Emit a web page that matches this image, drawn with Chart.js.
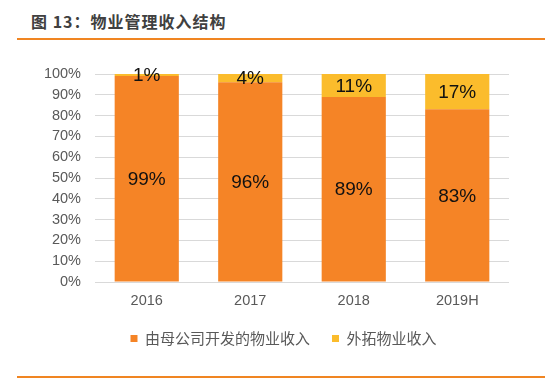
<!DOCTYPE html>
<html>
<head>
<meta charset="utf-8">
<script src="https://cdn.jsdelivr.net/npm/chart.js@4/dist/chart.umd.min.js"></script>
<style>
  html, body { margin: 0; padding: 0; background: #fff; }
  body { width: 558px; height: 384px; position: relative; overflow: hidden; }
  #title { position: absolute; left: 31px; top: 9px; font: bold 16px "Noto Sans CJK SC", "Liberation Sans", sans-serif; color: #404040; letter-spacing: 1px; white-space: nowrap; }
  .rule { position: absolute; left: 17px; width: 528px; height: 2px; background: #F08522; }
  #wrap { position: absolute; left: 0; top: 0; width: 558px; height: 384px; }
</style>
</head>
<body>
<div id="title">图 13：物业管理收入结构</div>
<div class="rule" style="top:38px"></div>
<div class="rule" style="top:376px"></div>
<div id="wrap"><canvas id="c" width="558" height="384"></canvas></div>
<script>
const categories = ["2016", "2017", "2018", "2019H"];
const seriesNames = ["由母公司开发的物业收入", "外拓物业收入"];
const parentDeveloped = [99, 96, 89, 83];
const externalExpansion = [1, 4, 11, 17];
const yTicks = [0, 10, 20, 30, 40, 50, 60, 70, 80, 90, 100];

const labelPlugin = {
  id: 'segLabels',
  afterLayout(chart) {
    const lg = chart.legend;
    if (lg) { lg.left += 29; lg.right += 29; }
  },
  afterDatasetsDraw(chart) {
    const ctx = chart.ctx;
    ctx.save();
    ctx.font = '19px "Liberation Sans", Arial, sans-serif';
    ctx.fillStyle = '#111';
    ctx.textAlign = 'center';
    ctx.textBaseline = 'middle';
    chart.data.datasets.forEach((ds, di) => {
      const meta = chart.getDatasetMeta(di);
      meta.data.forEach((el, i) => {
        const p = el.getProps(['x', 'y', 'base'], true);
        ctx.fillText(ds.data[i] + '%', p.x, (p.y + p.base) / 2 + 1);
      });
    });
    ctx.restore();
  }
};

new Chart(document.getElementById('c'), {
  type: 'bar',
  data: {
    labels: categories,
    datasets: [
      { label: seriesNames[0], data: parentDeveloped, backgroundColor: '#F58426', borderWidth: 0 },
      { label: seriesNames[1], data: externalExpansion, backgroundColor: '#FBBC2C', borderWidth: 0 }
    ]
  },
  options: {
    responsive: false,
    animation: false,
    devicePixelRatio: 1,
    layout: { padding: { left: 0, right: 49, top: 74, bottom: 28 } },
    datasets: { bar: { barPercentage: 0.62, categoryPercentage: 1 } },
    plugins: {
      tooltip: { enabled: false },
      legend: {
        position: 'bottom',
        labels: {
          boxWidth: 7, boxHeight: 7, padding: 22,
          color: '#595959',
          font: { size: 15, family: '"Noto Sans CJK SC", "Liberation Sans", sans-serif' }
        }
      }
    },
    scales: {
      x: {
        stacked: true,
        clip: false,
        grid: { display: false, drawTicks: false },
        border: { display: false },
        ticks: { color: '#595959', padding: 10, font: { size: 14.5, family: '"Liberation Sans", Arial, sans-serif' } },
        afterFit(s) { s.height = 27; }
      },
      y: {
        stacked: true,
        clip: false,
        min: 0, max: 100,
        afterBuildTicks(s) { s.ticks = yTicks.map(v => ({ value: v })); },
        grid: { color: '#D9D9D9', lineWidth: 1, drawTicks: false },
        border: { display: false },
        ticks: { color: '#595959', padding: 14, font: { size: 14.5, family: '"Liberation Sans", Arial, sans-serif' }, callback: v => v + '%' },
        afterFit(s) { s.width = 95; }
      }
    }
  },
  plugins: [labelPlugin]
});
</script>
</body>
</html>
